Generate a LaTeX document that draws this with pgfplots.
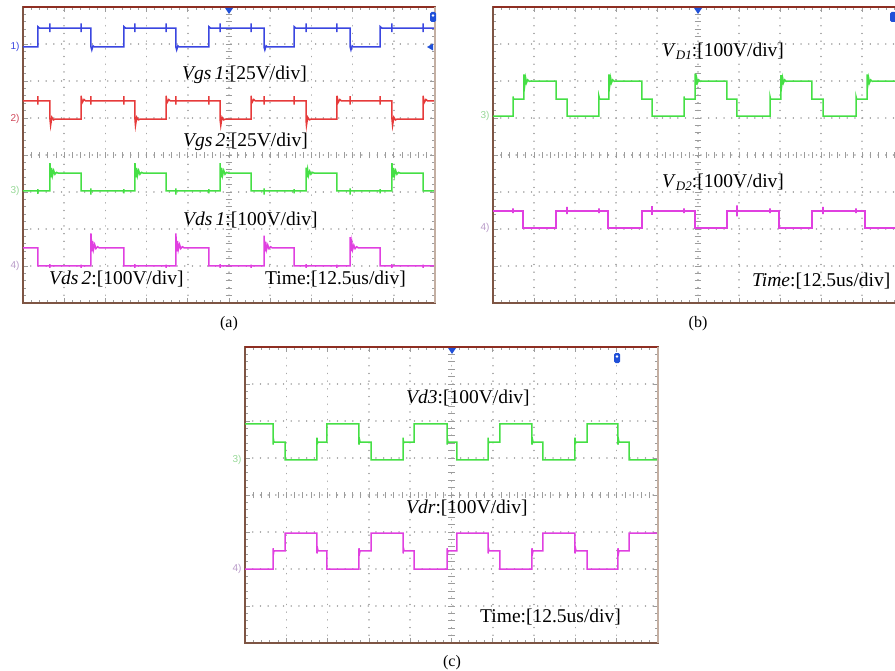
\documentclass[border=0pt]{standalone}
\usepackage{fontspec}
\setmainfont{Liberation Serif}
\setsansfont{Liberation Sans}
\usepackage{pgfplots}
\pgfplotsset{compat=1.18}
\definecolor{FrameBrown}{HTML}{7E5544}
\definecolor{FrameTop}{HTML}{8E2E22}
\definecolor{FrameRight}{HTML}{C4AFA2}
\definecolor{GridGray}{HTML}{A6A6A6}
\definecolor{TickGray}{HTML}{9C9C9C}
\definecolor{ChBlue}{HTML}{3A46E0}
\definecolor{ChRed}{HTML}{E63A3A}
\definecolor{ChGreen}{HTML}{45DF45}
\definecolor{ChMag}{HTML}{E040E0}
\definecolor{MarkGreen}{HTML}{96D896}
\definecolor{MarkMag}{HTML}{B89AC8}
\definecolor{MarkRed}{HTML}{D0485A}
\definecolor{TrigBlue}{HTML}{2050D8}

\newcommand\lab{\fontsize{19.5}{22}\selectfont}
\newcommand\chm{\sffamily\fontsize{10}{10}\selectfont}

% one oscilloscope screen: 10 x 8 divisions
\pgfplotsset{osc/.style={
  scale only axis, anchor=south west, height=296pt,
  xmin=0, xmax=10, ymin=0, ymax=8,
  xtick={0,...,10}, ytick={0,...,8}, xticklabels={}, yticklabels={},
  minor x tick num=4, minor y tick num=4,
  tick align=inside, major tick length=5pt, minor tick length=3pt,
  tick style={TickGray, line width=0.7pt},
  grid=major, major grid style={GridGray, line width=1.5pt, line cap=round, dash pattern=on 0.1pt off 7.6pt},
  axis line style={draw=FrameBrown, line width=1.6pt},
  every axis plot/.append style={line width=1.5pt, mark=none}}}

\newcommand\centercross{%
  \draw[TickGray, line width=0.7pt] foreach \k in {1,...,39} {(axis cs:4.92,\k/5) -- (axis cs:5.08,\k/5)};
  \draw[TickGray, line width=0.7pt] foreach \k in {1,...,49} {(axis cs:\k/5,3.91) -- (axis cs:\k/5,4.09)};}

\begin{document}
\begin{tikzpicture}
\path[use as bounding box] (0pt,0pt) rectangle (895pt,-671pt);
\clip (0pt,0pt) rectangle (895pt,-671pt);

% (a)
\begin{axis}[osc, at={(23pt,-303pt)}, width=412pt]
\centercross
\addplot[ChBlue] coordinates {(0,6.92)(0.36,6.92)(0.36,7.47)(0.40,7.43)(0.655,7.43)(0.655,7.56)(0.655,7.32)(0.655,7.43)(1.408,7.43)(1.408,7.56)(1.408,7.32)(1.408,7.43)(1.65,7.43)(1.65,6.92)(1.67,6.84)(1.70,6.95)(1.73,6.92)(2.45,6.92)(2.45,7.47)(2.49,7.43)(2.718,7.43)(2.718,7.56)(2.718,7.32)(2.718,7.43)(3.471,7.43)(3.471,7.56)(3.471,7.32)(3.471,7.43)(3.71,7.43)(3.71,6.92)(3.73,6.84)(3.76,6.95)(3.79,6.92)(4.51,6.92)(4.51,7.47)(4.55,7.43)(4.782,7.43)(4.782,7.56)(4.782,7.32)(4.782,7.43)(5.534,7.43)(5.534,7.56)(5.534,7.32)(5.534,7.43)(5.85,7.43)(5.85,6.92)(5.87,6.84)(5.90,6.95)(5.93,6.92)(6.58,6.92)(6.58,7.47)(6.62,7.43)(6.869,7.43)(6.869,7.56)(6.869,7.32)(6.869,7.43)(7.621,7.43)(7.621,7.56)(7.621,7.32)(7.621,7.43)(7.94,7.43)(7.94,6.92)(7.96,6.84)(7.99,6.95)(8.02,6.92)(8.67,6.92)(8.67,7.47)(8.71,7.43)(8.956,7.43)(8.956,7.56)(8.956,7.32)(8.956,7.43)(9.709,7.43)(9.709,7.56)(9.709,7.32)(9.709,7.43)(10,7.43)};
\addplot[ChRed] coordinates {(0,5.46)(0.36,5.46)(0.36,5.59)(0.36,5.36)(0.36,5.46)(0.655,5.46)(0.655,4.97)(0.67,4.80)(0.70,5.02)(0.74,4.95)(0.78,4.97)(1.408,4.97)(1.408,5.60)(1.44,5.42)(1.48,5.50)(1.52,5.46)(1.65,5.46)(1.65,5.59)(1.65,5.36)(1.65,5.46)(2.45,5.46)(2.45,5.59)(2.45,5.36)(2.45,5.46)(2.718,5.46)(2.718,4.97)(2.73,4.80)(2.76,5.02)(2.80,4.95)(2.84,4.97)(3.471,4.97)(3.471,5.60)(3.50,5.42)(3.54,5.50)(3.58,5.46)(3.71,5.46)(3.71,5.59)(3.71,5.36)(3.71,5.46)(4.51,5.46)(4.51,5.59)(4.51,5.36)(4.51,5.46)(4.782,5.46)(4.782,4.97)(4.80,4.80)(4.83,5.02)(4.87,4.95)(4.91,4.97)(5.534,4.97)(5.534,5.60)(5.56,5.42)(5.60,5.50)(5.64,5.46)(5.85,5.46)(5.85,5.59)(5.85,5.36)(5.85,5.46)(6.58,5.46)(6.58,5.59)(6.58,5.36)(6.58,5.46)(6.869,5.46)(6.869,4.97)(6.88,4.80)(6.91,5.02)(6.95,4.95)(6.99,4.97)(7.621,4.97)(7.621,5.60)(7.65,5.42)(7.69,5.50)(7.73,5.46)(7.94,5.46)(7.94,5.59)(7.94,5.36)(7.94,5.46)(8.67,5.46)(8.67,5.59)(8.67,5.36)(8.67,5.46)(8.956,5.46)(8.956,4.97)(8.97,4.80)(9.00,5.02)(9.04,4.95)(9.08,4.97)(9.709,4.97)(9.709,5.60)(9.74,5.42)(9.78,5.50)(9.82,5.46)(10,5.46)};
\addplot[ChGreen] coordinates {(0,3.03)(0.36,3.03)(0.36,2.95)(0.36,3.08)(0.36,3.03)(0.655,3.03)(0.655,3.78)(0.675,3.40)(0.695,3.65)(0.715,3.44)(0.745,3.58)(0.775,3.48)(0.815,3.53)(0.855,3.51)(1.408,3.51)(1.408,3.03)(1.65,3.03)(1.65,2.93)(1.65,3.10)(1.65,3.03)(2.45,3.03)(2.45,2.96)(2.45,3.08)(2.45,3.03)(2.718,3.03)(2.718,3.78)(2.738,3.40)(2.758,3.65)(2.778,3.44)(2.808,3.58)(2.838,3.48)(2.878,3.53)(2.918,3.51)(3.471,3.51)(3.471,3.03)(3.71,3.03)(3.71,2.93)(3.71,3.10)(3.71,3.03)(4.51,3.03)(4.51,2.96)(4.51,3.08)(4.51,3.03)(4.782,3.03)(4.782,3.78)(4.802,3.40)(4.822,3.65)(4.842,3.44)(4.872,3.58)(4.902,3.48)(4.942,3.53)(4.982,3.51)(5.534,3.51)(5.534,3.03)(5.85,3.03)(5.85,2.93)(5.85,3.10)(5.85,3.03)(6.58,3.03)(6.58,2.96)(6.58,3.08)(6.58,3.03)(6.869,3.03)(6.869,3.66)(6.889,3.40)(6.909,3.60)(6.929,3.44)(6.959,3.56)(6.989,3.48)(7.029,3.53)(7.069,3.51)(7.621,3.51)(7.621,3.03)(7.94,3.03)(7.94,2.93)(7.94,3.10)(7.94,3.03)(8.67,3.03)(8.67,2.96)(8.67,3.08)(8.67,3.03)(8.956,3.03)(8.956,3.78)(8.976,3.40)(8.996,3.65)(9.016,3.44)(9.046,3.58)(9.076,3.48)(9.116,3.53)(9.156,3.51)(9.709,3.51)(9.709,3.03)(10,3.03)};
\addplot[ChMag] coordinates {(0,1.49)(0.36,1.49)(0.36,1.0)(0.655,1.0)(0.655,0.95)(0.655,1.05)(0.655,1.0)(1.408,1.0)(1.408,0.95)(1.408,1.04)(1.408,1.0)(1.65,1.0)(1.65,1.88)(1.67,1.40)(1.69,1.68)(1.71,1.44)(1.74,1.58)(1.77,1.47)(1.81,1.52)(1.85,1.49)(2.45,1.49)(2.45,1.0)(2.718,1.0)(2.718,0.95)(2.718,1.05)(2.718,1.0)(3.471,1.0)(3.471,0.95)(3.471,1.04)(3.471,1.0)(3.71,1.0)(3.71,1.88)(3.73,1.40)(3.75,1.68)(3.77,1.44)(3.80,1.58)(3.83,1.47)(3.87,1.52)(3.91,1.49)(4.51,1.49)(4.51,1.0)(4.782,1.0)(4.782,0.95)(4.782,1.05)(4.782,1.0)(5.534,1.0)(5.534,0.95)(5.534,1.04)(5.534,1.0)(5.85,1.0)(5.85,1.82)(5.87,1.40)(5.89,1.66)(5.91,1.44)(5.94,1.57)(5.97,1.47)(6.01,1.52)(6.05,1.49)(6.58,1.49)(6.58,1.0)(6.869,1.0)(6.869,0.95)(6.869,1.05)(6.869,1.0)(7.621,1.0)(7.621,0.95)(7.621,1.04)(7.621,1.0)(7.94,1.0)(7.94,1.78)(7.96,1.40)(7.98,1.64)(8.00,1.44)(8.03,1.56)(8.06,1.47)(8.10,1.52)(8.14,1.49)(8.67,1.49)(8.67,1.0)(8.956,1.0)(8.956,0.95)(8.956,1.05)(8.956,1.0)(9.709,1.0)(9.709,0.95)(9.709,1.04)(9.709,1.0)(10,1.0)};
\end{axis}

% (b)
\begin{axis}[osc, at={(493pt,-303pt)}, width=410pt]
\centercross
\addplot[ChGreen] coordinates {(0,5.05)(0.488,5.05)(0.488,5.58)(0.50,5.51)(0.756,5.51)(0.756,6.18)(0.776,5.90)(0.796,6.08)(0.816,5.95)(0.846,6.03)(0.886,5.99)(0.93,6.0)(1.537,6.0)(1.537,5.51)(1.805,5.51)(1.805,5.05)(2.585,5.05)(2.585,5.58)(2.60,5.51)(2.829,5.51)(2.829,6.18)(2.849,5.90)(2.869,6.08)(2.889,5.95)(2.919,6.03)(2.959,5.99)(3.00,6.0)(3.634,6.0)(3.634,5.51)(3.878,5.51)(3.878,5.05)(4.659,5.05)(4.659,5.58)(4.67,5.51)(4.927,5.51)(4.927,6.20)(4.947,5.90)(4.967,6.08)(4.987,5.95)(5.017,6.03)(5.057,5.99)(5.10,6.0)(5.707,6.0)(5.707,5.51)(5.951,5.51)(5.951,5.05)(6.756,5.05)(6.756,5.58)(6.77,5.51)(7.024,5.51)(7.024,6.16)(7.044,5.90)(7.064,6.08)(7.084,5.95)(7.114,6.03)(7.154,5.99)(7.20,6.0)(7.780,6.0)(7.780,5.51)(8.049,5.51)(8.049,5.05)(8.854,5.05)(8.854,5.58)(8.87,5.51)(9.122,5.51)(9.122,6.18)(9.142,5.90)(9.162,6.08)(9.182,5.95)(9.212,6.03)(9.252,5.99)(9.30,6.0)(10,6.0)};
\addplot[ChMag] coordinates {(0,2.49)(0.488,2.49)(0.488,2.56)(0.488,2.43)(0.488,2.49)(0.732,2.49)(0.732,2.03)(1.537,2.03)(1.537,2.49)(1.805,2.49)(1.805,2.60)(1.805,2.40)(1.805,2.49)(2.585,2.49)(2.585,2.56)(2.585,2.43)(2.585,2.49)(2.805,2.49)(2.805,2.03)(3.634,2.03)(3.634,2.49)(3.878,2.49)(3.878,2.62)(3.878,2.38)(3.878,2.49)(4.659,2.49)(4.659,2.56)(4.659,2.43)(4.659,2.49)(4.927,2.49)(4.927,2.03)(5.707,2.03)(5.707,2.49)(5.951,2.49)(5.951,2.64)(5.951,2.34)(5.951,2.49)(6.756,2.49)(6.756,2.56)(6.756,2.43)(6.756,2.49)(6.976,2.49)(6.976,2.03)(7.780,2.03)(7.780,2.49)(8.049,2.49)(8.049,2.60)(8.049,2.40)(8.049,2.49)(8.854,2.49)(8.854,2.56)(8.854,2.43)(8.854,2.49)(9.073,2.49)(9.073,2.03)(10,2.03)};
\end{axis}

% (c)
\begin{axis}[osc, at={(245pt,-643pt)}, width=413pt]
\centercross
\addplot[ChGreen] coordinates {(0,5.92)(0.678,5.92)(0.678,5.36)(0.69,5.50)(0.70,5.43)(0.969,5.43)(0.969,4.95)(1.743,4.95)(1.743,5.55)(1.755,5.40)(1.77,5.43)(1.985,5.43)(1.985,5.92)(2.760,5.92)(2.760,5.36)(2.772,5.50)(2.785,5.43)(3.051,5.43)(3.051,4.95)(3.826,4.95)(3.826,5.55)(3.838,5.40)(3.85,5.43)(4.092,5.43)(4.092,5.92)(4.891,5.92)(4.891,5.36)(4.903,5.50)(4.915,5.43)(5.133,5.43)(5.133,4.95)(5.884,4.95)(5.884,5.55)(5.896,5.40)(5.91,5.43)(6.174,5.43)(6.174,5.92)(6.949,5.92)(6.949,5.36)(6.961,5.50)(6.975,5.43)(7.215,5.43)(7.215,4.95)(7.990,4.95)(7.990,5.55)(8.002,5.40)(8.015,5.43)(8.281,5.43)(8.281,5.92)(9.031,5.92)(9.031,5.36)(9.043,5.50)(9.055,5.43)(9.298,5.43)(9.298,4.95)(10,4.95)};
\addplot[ChMag] coordinates {(0,2.0)(0.678,2.0)(0.678,2.56)(0.69,2.42)(0.70,2.49)(0.969,2.49)(0.969,2.97)(1.743,2.97)(1.743,2.42)(1.755,2.56)(1.77,2.49)(1.985,2.49)(1.985,2.0)(2.760,2.0)(2.760,2.56)(2.772,2.42)(2.785,2.49)(3.051,2.49)(3.051,2.97)(3.826,2.97)(3.826,2.42)(3.838,2.56)(3.85,2.49)(4.092,2.49)(4.092,2.0)(4.891,2.0)(4.891,2.56)(4.903,2.42)(4.915,2.49)(5.133,2.49)(5.133,2.97)(5.884,2.97)(5.884,2.42)(5.896,2.56)(5.91,2.49)(6.174,2.49)(6.174,2.0)(6.949,2.0)(6.949,2.56)(6.961,2.42)(6.975,2.49)(7.215,2.49)(7.215,2.97)(7.990,2.97)(7.990,2.42)(8.002,2.56)(8.015,2.49)(8.281,2.49)(8.281,2.0)(9.031,2.0)(9.031,2.56)(9.043,2.42)(9.055,2.49)(9.298,2.49)(9.298,2.97)(10,2.97)};
\end{axis}

\begin{scope}[x=1pt,y=-1pt]
% frame edges
\draw[FrameTop, line width=1.6pt] (23,7) -- (435,7);
\draw[FrameTop, line width=1.6pt] (493,7) -- (903,7);
\draw[FrameTop, line width=1.6pt] (245,347) -- (658,347);
\draw[FrameRight, line width=1.2pt] (435,7) -- (435,303);
\draw[FrameRight, line width=1.2pt] (658,347) -- (658,643);
% trigger position markers
\foreach \x/\y in {229/8, 698/8, 452/348}
  \fill[TrigBlue] (\x-4,\y) -- (\x+4,\y) -- (\x,\y+6) -- cycle;
\fill[TrigBlue, rounded corners=1.5pt] (430,12) rectangle (436,22);
\fill[white] (433,15.5) circle (1.3);
\fill[TrigBlue, rounded corners=1.5pt] (890,12) rectangle (896,22);
\fill[TrigBlue, rounded corners=1.5pt] (614,353) rectangle (620,363);
\fill[white] (617,356.5) circle (1.3);
\fill[TrigBlue] (427,47) -- (433,43.5) -- (433,50.5) -- cycle;
% channel markers
\node[anchor=east, text=ChBlue, font=\chm] at (23,47) {1)};
\node[anchor=east, text=MarkRed, font=\chm] at (23,119) {2)};
\node[anchor=east, text=MarkGreen, font=\chm] at (23,191) {3)};
\node[anchor=east, text=MarkMag, font=\chm] at (23,266) {4)};
\node[anchor=east, text=MarkGreen, font=\chm] at (493,116) {3)};
\node[anchor=east, text=MarkMag, font=\chm] at (493,228) {4)};
\node[anchor=east, text=MarkGreen, font=\chm] at (245,460) {3)};
\node[anchor=east, text=MarkMag, font=\chm] at (245,569) {4)};
% scale labels
\node[anchor=base west, inner sep=0pt, font=\lab] at (182,80) {\textit{Vgs\,1}:[25V/div]};
\node[anchor=base west, inner sep=0pt, font=\lab] at (183,147) {\textit{Vgs\,2}:[25V/div]};
\node[anchor=base west, inner sep=0pt, font=\lab] at (183,226) {\textit{Vds\,1}:[100V/div]};
\node[anchor=base west, inner sep=0pt, font=\lab] at (49,285) {\textit{Vds\,2}:[100V/div]};
\node[anchor=base west, inner sep=0pt, font=\lab] at (265,285) {Time:[12.5us/div]};
\node[anchor=base west, inner sep=0pt, font=\lab] at (662,57) {\textit{V}\raisebox{-0.3ex}{\fontsize{13}{13}\selectfont\textit{D1}}:[100V/div]};
\node[anchor=base west, inner sep=0pt, font=\lab] at (662,188) {\textit{V}\raisebox{-0.3ex}{\fontsize{13}{13}\selectfont\textit{D2}}:[100V/div]};
\node[anchor=base west, inner sep=0pt, font=\lab] at (752,287) {\textit{Time}:[12.5us/div]};
\node[anchor=base west, inner sep=0pt, font=\lab] at (406,403) {\textit{Vd3}:[100V/div]};
\node[anchor=base west, inner sep=0pt, font=\lab] at (406,513) {\textit{Vdr}:[100V/div]};
\node[anchor=base west, inner sep=0pt, font=\lab] at (480,622) {Time:[12.5us/div]};
% panel captions
\node[anchor=base, inner sep=0pt, font=\fontsize{16}{18}\selectfont] at (229,327) {(a)};
\node[anchor=base, inner sep=0pt, font=\fontsize{16}{18}\selectfont] at (698,327) {(b)};
\node[anchor=base, inner sep=0pt, font=\fontsize{16}{18}\selectfont] at (452,666) {(c)};
\end{scope}
\end{tikzpicture}
\end{document}
